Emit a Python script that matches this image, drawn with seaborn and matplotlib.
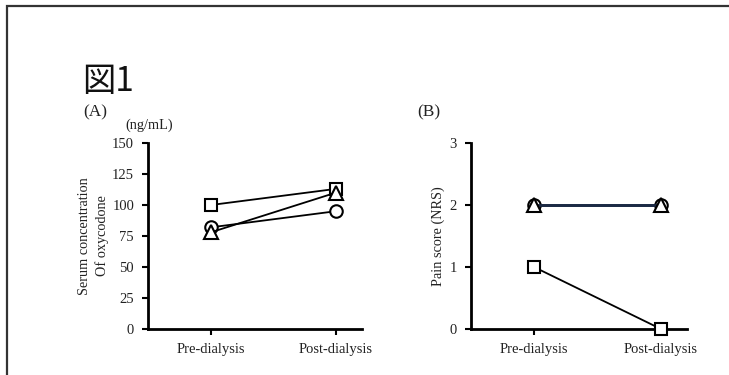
import matplotlib
matplotlib.use("Agg")
import matplotlib.pyplot as plt
import seaborn as sns
import pandas as pd
from matplotlib.patches import Rectangle

sns.set_theme(style="ticks")
plt.rcParams['font.family'] = ['Liberation Serif', 'Noto Sans CJK JP']

timepoints = ["Pre-dialysis", "Post-dialysis"]
subjects = ["square", "circle", "triangle"]
markers = {"square": "s", "circle": "o", "triangle": "^"}

conc_square = [100, 113]
conc_circle = [82, 95]
conc_triangle = [78, 110]

pain_square = [1, 0]
pain_circle = [2, 2]
pain_triangle = [2, 2]

conc_yticks = [0, 25, 50, 75, 100, 125, 150]
pain_yticks = [0, 1, 2, 3]

fig = plt.figure(figsize=(7.29, 3.75), dpi=100)
fig.patch.set_facecolor("white")

# border
fig.add_artist(Rectangle((6.5/729, -0.1), 1.2, 1 - 5.5/375 + 0.1, transform=fig.transFigure,
                         fill=False, edgecolor="#333333", linewidth=1.6))

axA = fig.add_axes([148/729, 1 - 329/375, (362-148)/729, (329-143)/375])
axB = fig.add_axes([471/729, 1 - 329/375, (687-471)/729, (329-143)/375])

def df_of(vals):
    return pd.DataFrame({"x": [0, 1], "y": vals})

for ax, data, colors in [
    (axA, {"square": conc_square, "circle": conc_circle, "triangle": conc_triangle},
     {"square": "black", "circle": "black", "triangle": "black"}),
    (axB, {"square": pain_square, "circle": pain_circle, "triangle": pain_triangle},
     {"square": "black", "circle": "#1c2a44", "triangle": "#1c2a44"}),
]:
    for s in subjects:
        lw = 1.3
        if ax is axB and s != "square":
            lw = 2.0
        sns.lineplot(data=df_of(data[s]), x="x", y="y", ax=ax, color=colors[s],
                     linewidth=lw, marker=markers[s], markersize=9 if s != "triangle" else 9.5,
                     markerfacecolor="white", markeredgecolor="black", markeredgewidth=1.5,
                     zorder=3, clip_on=False)

for ax in (axA, axB):
    ax.set_facecolor("white")
    ax.spines["top"].set_visible(False)
    ax.spines["right"].set_visible(False)
    for sp in ("left", "bottom"):
        ax.spines[sp].set_linewidth(2.0)
        ax.spines[sp].set_color("black")
    ax.set_xticks([0, 1])
    ax.set_xticklabels(timepoints)
    ax.tick_params(axis="both", direction="out", length=4, width=1.5, color="black",
                   labelsize=10.5, labelcolor="#222222", pad=6)
    ax.set_xlabel("")

axA.set_xlim(-0.504, 1.208)
axA.set_ylim(0, 150)
axA.set_yticks(conc_yticks)
axA.set_ylabel("Serum concentration\nOf oxycodone", fontsize=10.3, linespacing=1.4, labelpad=2,
               color="#222222")

axB.set_xlim(-0.496, 1.205)
axB.set_ylim(0, 3)
axB.set_yticks(pain_yticks)
axB.set_ylabel("Pain score (NRS)", fontsize=10.3, labelpad=3.5, color="#222222")

fig.text(82/729, 1 - 81/375, "図1", fontsize=24, family=['Noto Sans CJK JP'], va="center", ha="left",
         color="#111111")
fig.text(83/729, 1 - 112/375, "(A)", fontsize=12.5, va="center", ha="left", color="#222222")
fig.text(125/729, 1 - 125/375, "(ng/mL)", fontsize=10.3, va="center", ha="left", color="#222222")
fig.text(417/729, 1 - 112/375, "(B)", fontsize=12.5, va="center", ha="left", color="#222222")

fig.savefig("out.png", dpi=100, facecolor="white")
